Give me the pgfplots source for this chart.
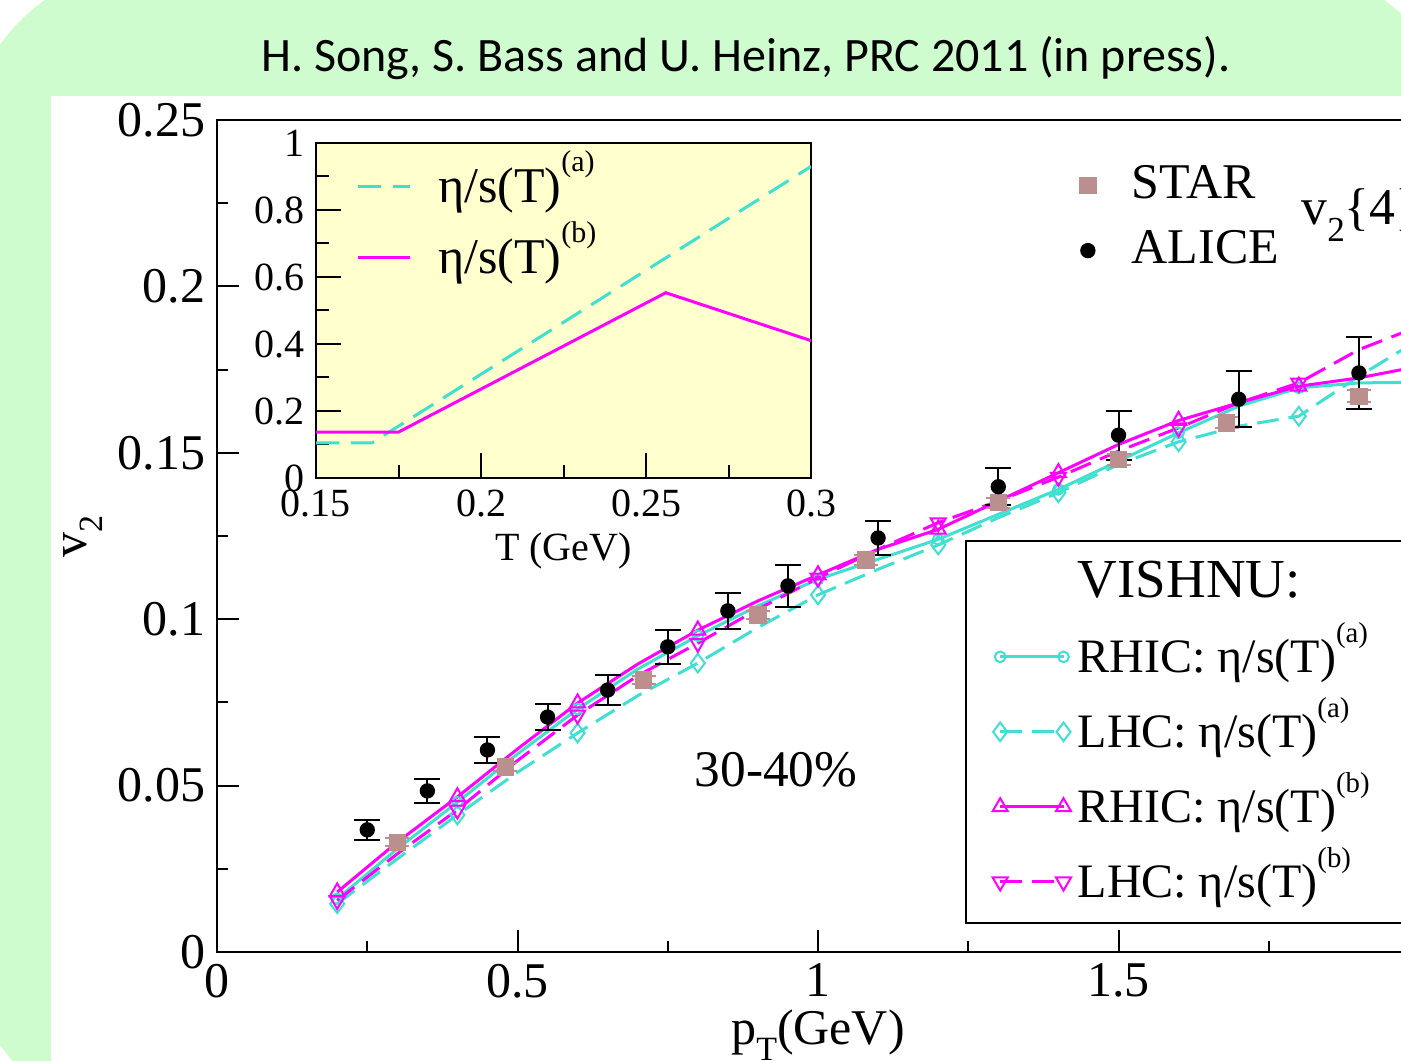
\documentclass[border=0pt]{standalone}
\usepackage{pgfplots}
\usepackage{pgfplotstable}
\usepackage{graphicx}
\pgfplotsset{compat=1.18}
\usepackage{fontspec}
\setmainfont{Liberation Serif}
\newfontfamily\titlefont{Carlito}
\definecolor{bggreen}{RGB}{206,252,206}
\definecolor{turq}{RGB}{64,224,208}
\definecolor{mag}{RGB}{255,0,255}
\definecolor{rosy}{RGB}{188,143,143}
\definecolor{insetbg}{RGB}{255,255,205}
\newcommand{\sups}[1]{\raisebox{0.62em}{\scalebox{0.6}{#1}}}
\newcommand{\subs}[1]{\raisebox{-0.32em}{\scalebox{0.68}{#1}}}

\pgfplotstableread{
pt v2 err
0.25 0.0367 0.0030
0.35 0.0484 0.0036
0.45 0.0607 0.0039
0.55 0.0706 0.0038
0.65 0.0787 0.0045
0.75 0.0917 0.0051
0.85 0.1025 0.0055
0.95 0.1100 0.0062
1.10 0.1244 0.0052
1.30 0.1398 0.0056
1.50 0.1553 0.0074
1.70 0.1661 0.0084
1.90 0.1740 0.0107
}\tabALICE

\pgfplotstableread{
pt v2 err
0.30 0.0330 0.0012
0.48 0.0556 0.0012
0.71 0.0817 0.0012
0.90 0.1013 0.0013
1.08 0.1178 0.0014
1.30 0.1350 0.0015
1.50 0.1480 0.0016
1.68 0.1590 0.0017
1.90 0.1670 0.0018
}\tabSTAR

\pgfplotstableread{
pt v2
0.2 0.0160
0.3 0.0310
0.4 0.0450
0.5 0.0595
0.6 0.0730
0.7 0.0850
0.8 0.0950
0.9 0.1040
1.0 0.1120
1.1 0.1180
1.2 0.1240
1.3 0.1315
1.4 0.1390
1.5 0.1475
1.6 0.1560
1.7 0.1640
1.8 0.1695
1.9 0.1710
2.0 0.1712
}\tabRHICa

\pgfplotstableread{
pt v2
0.2 0.0145
0.3 0.0280
0.4 0.0412
0.5 0.0540
0.6 0.0658
0.7 0.0770
0.8 0.0868
0.9 0.0975
1.0 0.1073
1.1 0.1150
1.2 0.1223
1.3 0.1305
1.4 0.1380
1.5 0.1465
1.6 0.1533
1.7 0.1580
1.8 0.1610
1.9 0.1730
2.0 0.1840
}\tabLHCa

\pgfplotstableread{
pt v2
0.2 0.0180
0.3 0.0330
0.4 0.0466
0.5 0.0610
0.6 0.0748
0.7 0.0865
0.8 0.0967
0.9 0.1055
1.0 0.1133
1.1 0.1210
1.2 0.1270
1.3 0.1355
1.4 0.1440
1.5 0.1525
1.6 0.1597
1.7 0.1650
1.8 0.1700
1.9 0.1725
2.0 0.1760
}\tabRHICb

\pgfplotstableread{
pt v2
0.2 0.0155
0.3 0.0295
0.4 0.0427
0.5 0.0575
0.6 0.0712
0.7 0.0830
0.8 0.0928
0.9 0.1030
1.0 0.1124
1.1 0.1210
1.2 0.1290
1.3 0.1355
1.4 0.1427
1.5 0.1505
1.6 0.1575
1.7 0.1650
1.8 0.1710
1.9 0.1810
2.0 0.1880
}\tabLHCb

\pgfplotsset{mainax/.style={at={(65.1pt,32.7pt)}, anchor=south west,
  scale only axis, width=360.6pt, height=249.6pt,
  xmin=0, xmax=2, ymin=0, ymax=0.25}}

\begin{document}
\begin{tikzpicture}
\clip (0,0) rectangle (420.3pt,318.3pt);
\fill[white] (0,0) rectangle (420.3pt,318.3pt);
\fill[bggreen, rounded corners=60pt] (-11.4pt,329.7pt) rectangle (440pt,-20pt);
\fill[white] (15.3pt,-5pt) rectangle (430pt,289.5pt);
\node[font=\titlefont\fontsize{14.4}{17}\selectfont] at (223.8pt,300.9pt) {H. Song, S. Bass and U. Heinz, PRC 2011 (in press).};

% main axis with model curves
\begin{axis}[mainax,
  axis line style={line width=0.6pt},
  tick align=inside, tick pos=left,
  xtick={0,0.5,1,1.5}, xticklabels={0,0.5,1,1.5},
  minor xtick={0.25,0.75,1.25,1.75},
  ytick={0,0.05,0.1,0.15,0.2,0.25}, yticklabels={0,0.05,0.1,0.15,0.2,0.25}, minor y tick num=1,
  major tick length=6.6pt, minor tick length=3.3pt,
  tick style={line width=0.6pt, black},
  ticklabel style={font=\fontsize{15}{18}\selectfont},
  xlabel={p\subs{T}(GeV)},
  ylabel={v\subs{2}},
  label style={font=\fontsize{15}{18}\selectfont},
  xlabel style={at={(axis description cs:0.5,-0.1)}, anchor=center},
  ylabel style={at={(axis description cs:-0.1115,0.4988)}, anchor=center},
  legend style={at={(0.6223,0.4952)}, anchor=north west, draw=black, line width=0.6pt,
    fill=white, font=\fontsize{14.4}{17}\selectfont, row sep=4pt,
    inner xsep=8pt, inner ysep=3pt,
    nodes={inner ysep=0pt, inner xsep=2pt, text height=14pt, text depth=4.5pt}},
  legend cell align=left,
  legend image code/.code={\draw[mark repeat=1,mark phase=1] plot coordinates {(0pt,0pt) (19pt,0pt)};},
]
\addlegendimage{empty legend}
\addlegendentry{\makebox[100pt][l]{\fontsize{16.5}{18}\selectfont VISHNU:}}
\addplot[turq, line width=0.9pt, mark=o, mark size=1.6pt, mark repeat=2, mark options={solid, line width=0.6pt}] table[x=pt,y=v2] {\tabRHICa};
\addlegendentry{RHIC: η/s(T)\sups{(a)}}
\addplot[turq, line width=0.9pt, dash pattern=on 6.5pt off 3pt, mark=diamond, mark size=2.8pt, mark repeat=2, mark options={solid, line width=0.6pt}] table[x=pt,y=v2] {\tabLHCa};
\addlegendentry{LHC: η/s(T)\sups{(a)}}
\addplot[mag, line width=0.9pt, mark=triangle, mark size=2.6pt, mark repeat=2, mark options={solid, line width=0.6pt}] table[x=pt,y=v2] {\tabRHICb};
\addlegendentry{RHIC: η/s(T)\sups{(b)}}
\addplot[mag, line width=0.9pt, dash pattern=on 6.5pt off 3pt, mark=triangle, mark size=2.6pt, mark repeat=2, mark options={solid, rotate=180, line width=0.6pt}] table[x=pt,y=v2] {\tabLHCb};
\addlegendentry{LHC: η/s(T)\sups{(b)}}
\node[font=\fontsize{15.4}{18}\selectfont] at (axis cs:0.93,0.0547) {30-40\%};
\node[font=\fontsize{15.5}{18}\selectfont, anchor=west] at (axis cs:1.785,0.2215) {v\subs{2}\{4\}};
\end{axis}

% data axis
\begin{axis}[mainax, hide axis,
  legend style={at={(0.704,0.958)}, anchor=north west, draw=none, fill=none,
    font=\fontsize{15}{18}\selectfont, row sep=5.5pt,
    nodes={inner ysep=0pt, inner xsep=3pt, text height=11pt, text depth=3pt}},
  legend cell align=left,
  legend image code/.code={\draw plot coordinates {(0pt,0pt)} (-4pt,0pt) (10pt,0pt);},
]
\addplot[only marks, mark=square*, mark size=2.4pt, rosy,
  error bars/.cd, y dir=both, y explicit,
  error bar style={rosy, line width=0.6pt},
  error mark options={rosy, rotate=90, mark size=3.6pt, line width=0.6pt}]
  table[x=pt,y=v2,y error=err] {\tabSTAR};
\addlegendentry{STAR}
\addplot[only marks, mark=*, mark size=2.1pt, black,
  error bars/.cd, y dir=both, y explicit,
  error bar style={black, line width=0.6pt},
  error mark options={black, rotate=90, mark size=3.9pt, line width=0.6pt}]
  table[x=pt,y=v2,y error=err] {\tabALICE};
\addlegendentry{ALICE}
\end{axis}

% inset
\begin{axis}[at={(94.8pt,174.9pt)}, anchor=south west, scale only axis,
  width=148.5pt, height=100.5pt,
  xmin=0.15, xmax=0.3, ymin=0, ymax=1,
  axis background/.style={fill=insetbg},
  axis line style={line width=0.6pt},
  tick align=inside, tick pos=left,
  xtick={0.15,0.2,0.25,0.3}, xticklabels={0.15,0.2,0.25,0.3}, minor x tick num=1,
  ytick={0,0.2,0.4,0.6,0.8,1}, yticklabels={0,0.2,0.4,0.6,0.8,1}, minor y tick num=1,
  major tick length=7.5pt, minor tick length=3.8pt,
  tick style={line width=0.6pt, black},
  ticklabel style={font=\fontsize{12}{14}\selectfont},
  xlabel={T (GeV)},
  xlabel style={at={(axis description cs:0.5,-0.218)}, anchor=center, font=\fontsize{12}{14}\selectfont},
  legend style={at={(0.06,0.985)}, anchor=north west, draw=none, fill=none,
    font=\fontsize{15}{18}\selectfont, row sep=3pt,
    nodes={inner ysep=0pt, inner xsep=8pt, text height=14pt, text depth=4.5pt}},
  legend cell align=left,
  legend image code/.code={\draw (0pt,0pt) -- (15.6pt,0pt);},
]
\addplot[turq, line width=0.9pt, dash pattern=on 7pt off 3.5pt] coordinates {(0.15,0.105) (0.167,0.105) (0.3,0.93)};
\addlegendentry{η/s(T)\sups{(a)}}
\addplot[mag, line width=0.9pt] coordinates {(0.15,0.137) (0.175,0.137) (0.256,0.553) (0.3,0.41)};
\addlegendentry{η/s(T)\sups{(b)}}
\end{axis}
\end{tikzpicture}
\end{document}
